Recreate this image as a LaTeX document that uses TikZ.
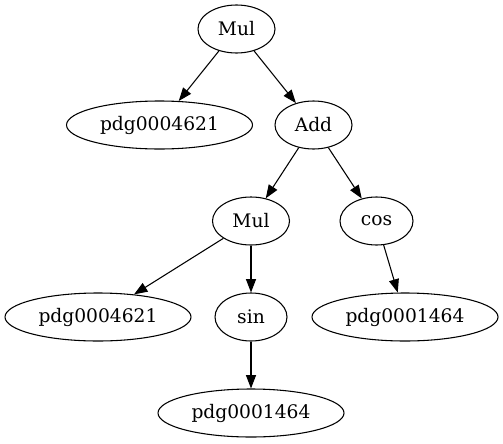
\documentclass[tikz,border=0pt]{standalone}
\usepackage{fontspec}
\setmainfont{DejaVu Serif}
\usetikzlibrary{shapes.geometric,arrows.meta}

\tikzset{
  opnode/.style={draw, ellipse, inner sep=0pt, minimum height=36pt, line width=0.8pt, font=\fontsize{14}{16}\selectfont},
  edge/.style={-{Triangle[length=10pt,width=7.5pt]}, line width=0.8pt}
}

\begin{document}
\begin{tikzpicture}[x=0.75pt, y=-0.75pt]
  \useasboundingbox (0,0) rectangle (503,443);

  % Nodes of the expression tree
  \node[opnode, minimum width=57.75pt] (mulA) at (236.5,29) {Mul};
  \node[opnode, minimum width=139.5pt] (pdgA) at (159.5,125) {pdg0004621};
  \node[opnode, minimum width=57.75pt] (addA) at (313.5,125) {Add};
  \node[opnode, minimum width=57.75pt] (mulB) at (251,221) {Mul};
  \node[opnode, minimum width=54.75pt] (cosA) at (376.5,221) {cos};
  \node[opnode, minimum width=139.5pt] (pdgB) at (98,317) {pdg0004621};
  \node[opnode, minimum width=54pt] (sinA) at (251,317) {sin};
  \node[opnode, minimum width=139.5pt] (pdgC) at (405,317) {pdg0001464};
  \node[opnode, minimum width=139.5pt] (pdgD) at (251,413) {pdg0001464};

  % Edges
  \draw[edge] (mulA) -- (pdgA);
  \draw[edge] (mulA) -- (addA);
  \draw[edge] (addA) -- (mulB);
  \draw[edge] (addA) -- (cosA);
  \draw[edge] (mulB) -- (pdgB);
  \draw[edge] (mulB) -- (sinA);
  \draw[edge] (cosA) -- (pdgC);
  \draw[edge] (sinA) -- (pdgD);
\end{tikzpicture}
\end{document}
